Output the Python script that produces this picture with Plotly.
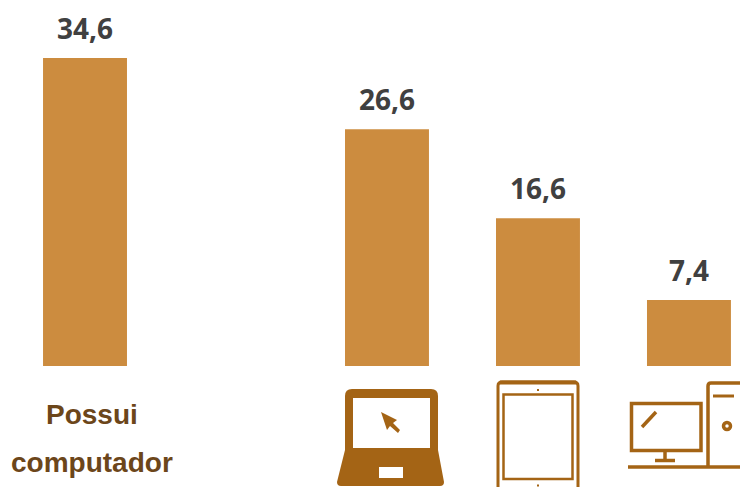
import plotly.graph_objects as go

categories = ["Possui computador", "", "Notebook", "Tablet", "Desktop"]
values = [34.6, None, 26.6, 16.6, 7.4]
value_labels = ["34,6", "", "26,6", "16,6", "7,4"]

BAR = "#CC8C3F"
ICON = "#A46415"
LABEL = "#6C461A"
VALUE = "#404040"


def frame(x0, y0, x1, y1, width=3):
    return dict(type="rect", x0=x0, y0=y0, x1=x1, y1=y1, xref="x2", yref="y2",
                line=dict(color=ICON, width=width), fillcolor="rgba(0,0,0,0)")


def stroke(x0, y0, x1, y1, width=3):
    return dict(type="line", x0=x0, y0=y0, x1=x1, y1=y1, xref="x2", yref="y2",
                line=dict(color=ICON, width=width))


def solid(path):
    return dict(type="path", path=path, xref="x2", yref="y2",
                fillcolor=ICON, line=dict(color=ICON, width=0))


fig = go.Figure()
fig.add_trace(go.Bar(
    x=categories,
    y=values,
    width=0.556,
    marker=dict(color=BAR, line=dict(width=0)),
    hoverinfo="skip",
))
# invisible pixel-sized axes, only used to place the icons and the label
fig.add_trace(go.Scatter(x=[0, 740], y=[0, 487], xaxis="x2", yaxis="y2",
                         mode="none", showlegend=False, hoverinfo="skip"))

shapes = [
    # laptop
    solid("M 345 450 L 345 396 Q 345 389 352 389 L 431 389 Q 438 389 438 396 "
          "L 438 450 L 444 482 Q 444 486 440 486 L 341 486 Q 337 486 337 482 Z"),
    dict(type="rect", x0=353, y0=398, x1=430, y1=448, xref="x2", yref="y2",
         fillcolor="white", line=dict(width=0)),
    dict(type="rect", x0=379, y0=467, x1=403, y1=478, xref="x2", yref="y2",
         fillcolor="white", line=dict(width=0)),
    solid("M 381 412 L 397 420 L 393 423 L 400 430 L 398 433 L 390 426 L 387 430 Z"),
    # tablet
    dict(type="path", path="M 498 490 L 498 386 Q 498 382 502 382 L 574 382 Q 578 382 578 386 L 578 490",
         xref="x2", yref="y2", line=dict(color=ICON, width=3), fillcolor="rgba(0,0,0,0)"),
    stroke(500, 382.5, 576, 382.5, width=4),
    frame(503.5, 394.5, 572.5, 479, width=2.5),
    stroke(537, 390, 539, 390, width=2),
    stroke(537, 485.5, 539, 485.5, width=2),
    # desktop
    frame(631.5, 403.5, 701, 450.5, width=3.5),
    stroke(642, 427, 656, 412, width=3.5),
    stroke(665, 451, 665, 460, width=3.5),
    stroke(655, 460.5, 675, 460.5, width=3.5),
    stroke(628, 467, 740, 467, width=3.5),
    dict(type="path", path="M 708 467 L 708 386 Q 708 383 711 383 L 742 383",
         xref="x2", yref="y2", line=dict(color=ICON, width=3.5), fillcolor="rgba(0,0,0,0)"),
    stroke(713, 396, 734, 396, width=3),
    dict(type="circle", x0=723.5, y0=422.5, x1=730.5, y1=429.5, xref="x2", yref="y2",
         line=dict(color=ICON, width=3.5), fillcolor="rgba(0,0,0,0)"),
]

annotations = [
    dict(text=label, x=cat, y=val, xref="x", yref="y", showarrow=False,
         yanchor="middle", yshift=30,
         font=dict(family="Open Sans", size=28, color=VALUE, weight="bold"))
    for cat, val, label in zip(categories, values, value_labels) if val is not None
]
annotations += [
    dict(text="Possui", x=92, y=414, xref="x2", yref="y2", showarrow=False,
         font=dict(family="Liberation Sans", size=28, color=LABEL, weight="bold")),
    dict(text="computador", x=92, y=462, xref="x2", yref="y2", showarrow=False,
         font=dict(family="Liberation Sans", size=28, color=LABEL, weight="bold")),
]

fig.update_layout(
    width=740,
    height=487,
    autosize=False,
    margin=dict(l=0, r=0, t=0, b=0),
    paper_bgcolor="white",
    plot_bgcolor="white",
    showlegend=False,
    shapes=shapes,
    annotations=annotations,
    xaxis=dict(type="category", categoryorder="array", categoryarray=categories,
               range=[-0.563, 4.338], visible=False),
    yaxis=dict(range=[-13.6, 41.12], visible=False),
    xaxis2=dict(range=[0, 740], overlaying="x", visible=False),
    yaxis2=dict(range=[487, 0], overlaying="y", visible=False),
)

fig.write_html("out.html", config=dict(displayModeBar=False),
               post_script="document.body.style.margin = '0';")
